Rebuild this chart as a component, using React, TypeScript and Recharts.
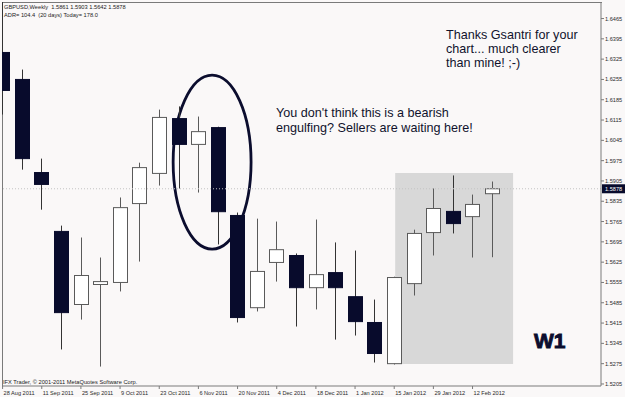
import React from 'react';
import { ComposedChart, Bar, XAxis, YAxis, ReferenceArea, ReferenceLine } from 'recharts';

// weekly GBPUSD candles, 28 Aug 2011 .. 19 Feb 2012
const weeks = [
  '28 Aug 2011', '4 Sep 2011', '11 Sep 2011', '18 Sep 2011', '25 Sep 2011', '2 Oct 2011',
  '9 Oct 2011', '16 Oct 2011', '23 Oct 2011', '30 Oct 2011', '6 Nov 2011', '13 Nov 2011',
  '20 Nov 2011', '27 Nov 2011', '4 Dec 2011', '11 Dec 2011', '18 Dec 2011', '25 Dec 2011',
  '1 Jan 2012', '8 Jan 2012', '15 Jan 2012', '22 Jan 2012', '29 Jan 2012', '5 Feb 2012',
  '12 Feb 2012', '19 Feb 2012',
];
const opens = [
  1.6348, 1.6255, 1.5934, 1.5731, 1.5479, 1.5548, 1.5555, 1.5827, 1.5931, 1.6120, 1.6031, 1.6089, 1.5786,
  1.5468, 1.5624, 1.5648, 1.5537, 1.5589, 1.5506, 1.5417, 1.5275, 1.5551, 1.5727, 1.5800, 1.5782, 1.5861,
];
const highs = [
  1.6560, 1.6289, 1.5982, 1.5751, 1.5710, 1.5641, 1.5848, 1.5968, 1.6151, 1.6162, 1.6127, 1.6092, 1.5796,
  1.5775, 1.5765, 1.5655, 1.5772, 1.5693, 1.5665, 1.5496, 1.5575, 1.5737, 1.5879, 1.5924, 1.5858, 1.5903,
];
const lows = [
  1.6134, 1.5944, 1.5806, 1.5324, 1.5427, 1.5265, 1.5524, 1.5627, 1.5889, 1.5879, 1.5865, 1.5686, 1.5417,
  1.5455, 1.5558, 1.5403, 1.5462, 1.5358, 1.5372, 1.5279, 1.5272, 1.5510, 1.5648, 1.5724, 1.5641, 1.5642,
];
const closes = [
  1.6217, 1.5982, 1.5893, 1.5451, 1.5579, 1.5558, 1.5813, 1.5951, 1.6124, 1.6031, 1.6075, 1.5799, 1.5434,
  1.5593, 1.5668, 1.5537, 1.5582, 1.5537, 1.5420, 1.5310, 1.5572, 1.5724, 1.5810, 1.5758, 1.5824, 1.5878,
];
const priceTicks = [
  1.5205, 1.5275, 1.5345, 1.5415, 1.5485, 1.5555, 1.5625, 1.5695, 1.5765, 1.5835,
  1.5905, 1.5975, 1.6045, 1.6115, 1.6185, 1.6255, 1.6325, 1.6395, 1.6465,
];
const dateTicks = [0, 2, 4, 6, 8, 10, 12, 14, 16, 18, 20, 22, 24];
const lastClose = 1.5878;
// annotations (in data units: week index / price)
const greyBox = [20.05, 26.07, 1.5274, 1.5932];
const ring = [8.71, 12.69, 1.5670, 1.6270];

const data = weeks.map((week, i) => ({
  idx: i,
  week,
  open: opens[i],
  high: highs[i],
  low: lows[i],
  close: closes[i],
}));

const BEAR = '#080b2c';
const BULL_EDGE = '#5a5a5a';
const small = { fontFamily: 'Liberation Sans, Arial, sans-serif', fontSize: 5.6, fill: '#2a2a2a' };

const Candle = (props: any) => {
  const { x, y, width, height, payload } = props;
  if (height == null || isNaN(y)) return null;
  const { open, close, high, low } = payload;
  const top = Math.min(y, y + height);
  const h = Math.abs(height);
  const px = (v: number) => top + ((high - v) / (high - low)) * h;
  const cx = Math.round(x + width / 2) + 0.5;
  const bodyTop = px(Math.max(open, close));
  const bodyBot = px(Math.min(open, close));
  const bull = close >= open;
  return (
    <g>
      <line x1={cx} x2={cx} y1={top} y2={top + h} stroke={bull ? BULL_EDGE : '#333'} strokeWidth={1} />
      <rect
        x={cx - 7}
        y={bodyTop}
        width={14}
        height={Math.max(bodyBot - bodyTop, 1)}
        fill={bull ? '#ffffff' : BEAR}
        stroke={bull ? BULL_EDGE : BEAR}
        strokeWidth={1}
      />
    </g>
  );
};

const DateTick = ({ x, y, payload }: any) => (
  <g>
    <line x1={x} x2={x} y1={y} y2={y + 3} stroke="#7a7a7a" />
    <text x={x + 1} y={y + 8.5} {...small}>{weeks[payload.value]}</text>
  </g>
);

const CloseTag = ({ viewBox }: any) => {
  if (!viewBox) return null;
  const { x, y, width } = viewBox;
  return (
    <g>
      <rect x={x + width + 1} y={y - 4.5} width={23} height={9} fill={BEAR} />
      <text x={x + width + 4} y={y + 2} {...small} fill="#ffffff">{lastClose.toFixed(4)}</text>
    </g>
  );
};

const Ring = (p: any) => (
  <ellipse
    cx={p.x + p.width / 2}
    cy={p.y + p.height / 2}
    rx={p.width / 2}
    ry={p.height / 2}
    fill="none"
    stroke="#0b0d2e"
    strokeWidth={2.8}
  />
);

const txt: React.CSSProperties = { position: 'absolute', fontFamily: 'Liberation Sans, Arial, sans-serif', whiteSpace: 'nowrap' };

export default function App() {
  return (
    <div style={{ position: 'relative', width: 625, height: 397, background: '#faf8f8', overflow: 'hidden' }}>
      <style>{'body{margin:0}'}</style>
      <div style={{ position: 'absolute', left: 1.5, top: 1.5, width: 599, height: 384, border: '1px solid #7a7a7a', borderRight: 'none', borderBottom: 'none' }} />
      <ComposedChart
        width={625}
        height={397}
        data={data}
        margin={{ top: 2, right: 0, bottom: 0, left: 2 }}
        style={{ position: 'absolute', left: 0, top: 0 }}
      >
        <XAxis
          dataKey="idx"
          type="number"
          domain={[-0.03, 30.56]}
          allowDataOverflow
          ticks={dateTicks}
          interval={0}
          height={11}
          tickSize={0}
          tickMargin={0}
          tickLine={false}
          axisLine={{ stroke: '#7a7a7a' }}
          tick={<DateTick />}
        />
        <YAxis
          orientation="right"
          width={24}
          domain={[1.5198, 1.6522]}
          allowDataOverflow
          ticks={priceTicks}
          interval={0}
          tickFormatter={(v: number) => v.toFixed(4)}
          tickSize={3}
          tickMargin={1}
          axisLine={{ stroke: '#7a7a7a' }}
          tickLine={{ stroke: '#7a7a7a' }}
          tick={small}
        />
        <ReferenceArea
          x1={greyBox[0]}
          x2={greyBox[1]}
          y1={greyBox[2]}
          y2={greyBox[3]}
          fill="#d8d8d8"
          fillOpacity={1}
          stroke="none"
        />
        <ReferenceLine y={lastClose} stroke="#c4c4c4" strokeDasharray="1 2" label={<CloseTag />} />
        <Bar
          dataKey={(d: any) => [d.low, d.high]}
          barSize={15}
          shape={<Candle />}
          isAnimationActive={false}
        />
        <ReferenceArea x1={ring[0]} x2={ring[1]} y1={ring[2]} y2={ring[3]} shape={<Ring />} />
      </ComposedChart>

      <div style={{ ...txt, left: 4, top: 2.5, fontSize: 5.7, lineHeight: '8px', color: '#222' }}>
        GBPUSD,Weekly&nbsp; 1.5861 1.5903 1.5642 1.5878
        <br />
        ADR= 104.4&nbsp; (20 days) Today= 178.0
      </div>
      <div style={{ ...txt, left: 3, top: 377.5, fontSize: 5.7, lineHeight: '8px', color: '#222' }}>
        IFX Trader, © 2001-2011 MetaQuotes Software Corp.
      </div>
      <div style={{ ...txt, left: 446, top: 27.8, fontSize: 12.6, lineHeight: '14.3px', color: '#10122c' }}>
        Thanks Gsantri for your
        <br />
        chart... much clearer
        <br />
        than mine! ;-)
      </div>
      <div style={{ ...txt, left: 276, top: 105.8, fontSize: 12.6, lineHeight: '15px', color: '#10122c' }}>
        You don't think this is a bearish
        <br />
        engulfing? Sellers are waiting here!
      </div>
      <div
        style={{
          ...txt,
          left: 534,
          top: 330,
          fontSize: 21,
          lineHeight: '21px',
          fontWeight: 'bold',
          color: '#0b0d2e',
          WebkitTextStroke: '0.9px #0b0d2e',
        }}
      >
        W1
      </div>
    </div>
  );
}
